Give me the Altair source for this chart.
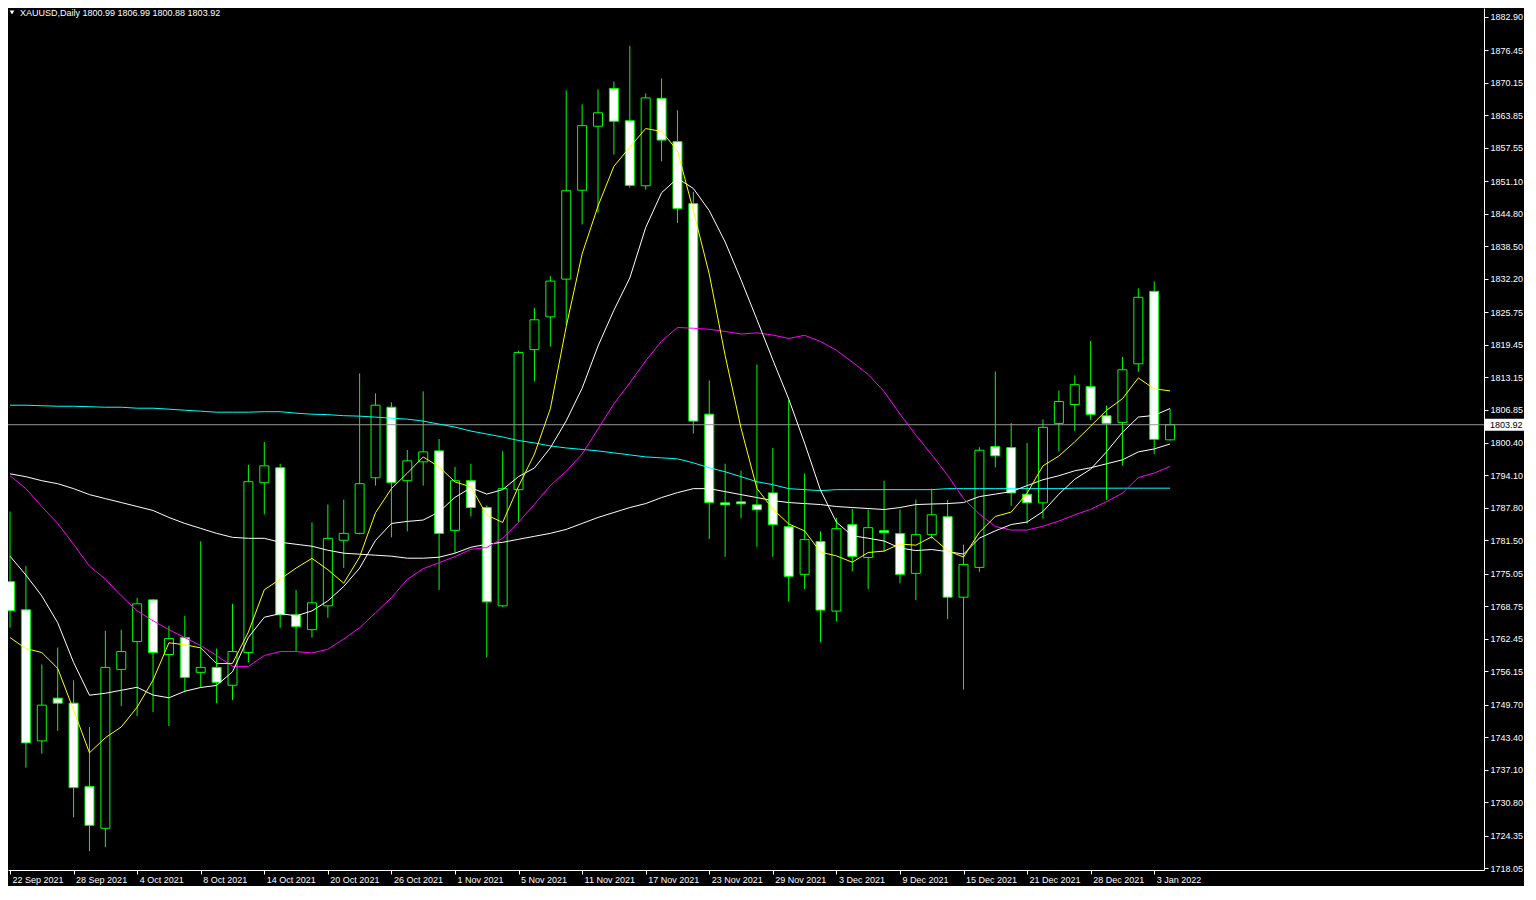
import altair as alt
import pandas as pd

symbol = "XAUUSD,Daily"

# x-axis labels, one every 4 bars (bar index 0, 4, 8, ...)
tick_labels = ["22 Sep 2021", "28 Sep 2021", "4 Oct 2021", "8 Oct 2021", "14 Oct 2021",
               "20 Oct 2021", "26 Oct 2021", "1 Nov 2021", "5 Nov 2021", "11 Nov 2021",
               "17 Nov 2021", "23 Nov 2021", "29 Nov 2021", "3 Dec 2021", "9 Dec 2021",
               "15 Dec 2021", "21 Dec 2021", "28 Dec 2021", "3 Jan 2022"]
tick_step = 4

price_ticks = [1882.90, 1876.45, 1870.15, 1863.85, 1857.55, 1851.10, 1844.80, 1838.50,
               1832.20, 1825.75, 1819.45, 1813.15, 1806.85, 1800.40, 1794.10, 1787.80,
               1781.50, 1775.05, 1768.75, 1762.45, 1756.15, 1749.70, 1743.40, 1737.10,
               1730.80, 1724.35, 1718.05]

opens = [1773.52, 1768.07, 1742.68, 1750.96, 1749.99, 1733.84, 1725.76, 1756.53, 1761.92, 1770.00,
         1759.42, 1762.69, 1755.96, 1756.92, 1753.46, 1759.80, 1792.69, 1795.58, 1767.11, 1764.23,
         1768.84, 1781.54, 1782.88, 1793.65, 1807.31, 1793.08, 1796.73, 1798.85, 1783.46, 1793.08,
         1787.88, 1768.84, 1791.35, 1818.47, 1824.81, 1832.12, 1849.34, 1861.74, 1869.05, 1862.80,
         1850.20, 1867.13, 1858.74, 1846.74, 1805.96, 1788.79, 1788.98, 1788.40, 1790.71, 1784.17,
         1774.94, 1781.29, 1767.82, 1784.56, 1778.21, 1783.40, 1782.83, 1775.13, 1782.63, 1786.10,
         1770.52, 1776.29, 1799.68, 1799.48, 1790.44, 1788.79, 1804.18, 1807.83, 1811.29, 1805.64,
         1804.37, 1815.72, 1829.76, 1800.99]
highs = [1787.12, 1776.54, 1757.50, 1760.76, 1754.42, 1745.38, 1764.03, 1764.23, 1770.38, 1770.19,
         1765.00, 1766.92, 1781.35, 1760.57, 1769.23, 1796.16, 1800.58, 1796.35, 1771.92, 1785.00,
         1788.46, 1789.42, 1813.85, 1810.00, 1808.27, 1799.04, 1810.39, 1801.16, 1795.77, 1796.35,
         1788.27, 1798.85, 1818.27, 1826.55, 1832.70, 1868.67, 1865.97, 1868.86, 1870.40, 1877.32,
         1868.09, 1870.98, 1864.82, 1849.05, 1812.50, 1796.35, 1795.00, 1815.58, 1799.43, 1808.66,
         1794.48, 1783.27, 1785.90, 1787.63, 1787.50, 1793.08, 1787.50, 1789.42, 1791.54, 1789.37,
         1780.71, 1799.56, 1814.24, 1804.23, 1800.39, 1804.95, 1810.52, 1813.47, 1820.14, 1807.64,
         1817.06, 1830.33, 1831.68, 1806.99]
lows = [1764.61, 1737.49, 1740.18, 1744.61, 1727.87, 1721.34, 1722.10, 1749.42, 1747.49, 1748.26,
        1745.57, 1752.11, 1753.07, 1749.99, 1750.57, 1757.88, 1786.54, 1764.61, 1760.00, 1762.69,
        1766.53, 1776.15, 1782.69, 1792.12, 1782.11, 1783.27, 1792.12, 1771.92, 1779.04, 1786.15,
        1758.84, 1768.65, 1785.00, 1812.31, 1819.04, 1823.28, 1842.70, 1845.01, 1856.24, 1849.82,
        1849.43, 1854.92, 1842.99, 1802.21, 1781.79, 1778.33, 1785.83, 1780.25, 1778.33, 1769.67,
        1772.06, 1761.78, 1765.90, 1775.52, 1772.06, 1779.36, 1773.21, 1769.94, 1781.86, 1766.29,
        1752.63, 1775.44, 1795.64, 1788.21, 1784.75, 1785.71, 1798.79, 1802.75, 1804.87, 1789.37,
        1796.02, 1814.18, 1798.21, 1800.88]
closes = [1767.88, 1742.30, 1749.61, 1749.99, 1733.64, 1726.34, 1756.92, 1760.00, 1769.23, 1759.80,
          1762.50, 1754.99, 1756.92, 1754.03, 1760.00, 1792.89, 1795.96, 1767.11, 1764.80, 1769.42,
          1781.92, 1782.88, 1792.50, 1807.70, 1792.69, 1796.92, 1798.66, 1782.88, 1793.08, 1787.88,
          1769.61, 1791.54, 1817.89, 1824.24, 1831.74, 1849.24, 1861.84, 1864.34, 1862.70, 1850.28,
          1867.22, 1859.05, 1845.78, 1804.62, 1788.85, 1788.40, 1788.60, 1787.44, 1784.56, 1774.56,
          1781.67, 1768.02, 1783.79, 1778.40, 1783.98, 1783.02, 1774.94, 1782.63, 1786.48, 1770.52,
          1776.86, 1798.98, 1797.89, 1790.71, 1788.79, 1803.41, 1808.41, 1811.68, 1805.91, 1804.18,
          1814.56, 1828.60, 1801.10, 1803.92]

ma_yellow = [1762.69, 1760.57, 1759.80, 1756.73, 1748.68, 1740.38, 1743.30, 1745.38, 1749.22, 1754.45,
             1761.69, 1761.30, 1760.69, 1757.65, 1757.69, 1763.76, 1771.96, 1774.00, 1776.15, 1778.04,
             1775.84, 1773.23, 1778.31, 1786.88, 1791.54, 1794.54, 1797.69, 1795.77, 1792.85, 1791.88,
             1786.42, 1785.00, 1792.00, 1798.23, 1807.00, 1822.93, 1836.99, 1846.28, 1853.97, 1857.68,
             1861.28, 1860.72, 1857.01, 1845.39, 1833.10, 1817.33, 1803.25, 1791.58, 1787.58, 1784.71,
             1783.36, 1779.25, 1778.52, 1777.29, 1779.17, 1779.44, 1780.82, 1780.59, 1782.21, 1779.52,
             1778.29, 1783.09, 1786.15, 1787.00, 1790.65, 1795.96, 1797.85, 1800.60, 1803.64, 1806.71,
             1808.95, 1812.98, 1810.87, 1810.47]
ma_white_fast = [1778.46, 1774.80, 1770.77, 1765.57, 1757.88, 1751.53, 1751.91, 1752.49, 1753.07, 1751.57,
                 1751.03, 1752.30, 1753.03, 1753.43, 1756.07, 1762.73, 1766.63, 1767.34, 1766.90, 1767.86,
                 1769.80, 1772.59, 1776.15, 1781.52, 1784.79, 1785.19, 1785.46, 1787.04, 1789.86, 1791.71,
                 1790.48, 1791.35, 1793.88, 1795.54, 1799.44, 1804.67, 1810.98, 1819.14, 1826.10, 1832.33,
                 1842.10, 1848.85, 1851.64, 1849.68, 1845.39, 1839.31, 1831.99, 1824.29, 1816.48, 1808.90,
                 1800.35, 1791.25, 1785.06, 1782.42, 1781.94, 1781.40, 1780.04, 1779.55, 1779.75, 1779.34,
                 1778.86, 1781.96, 1783.36, 1784.59, 1785.07, 1787.11, 1790.46, 1793.36, 1795.31, 1798.67,
                 1802.44, 1805.40, 1805.73, 1807.06]
ma_magenta = [1794.04, 1791.54, 1788.07, 1784.80, 1780.76, 1776.53, 1774.03, 1770.77, 1767.88, 1765.95,
              1764.23, 1762.69, 1761.15, 1759.22, 1757.11, 1757.11, 1759.22, 1759.99, 1759.99, 1759.71,
              1760.42, 1762.44, 1764.59, 1767.48, 1770.42, 1773.96, 1776.04, 1777.19, 1778.38, 1779.79,
              1780.13, 1781.96, 1785.02, 1788.52, 1792.12, 1794.92, 1798.23, 1803.08, 1807.98, 1812.02,
              1816.29, 1820.10, 1822.76, 1822.60, 1822.41, 1821.99, 1821.49, 1821.72, 1821.29, 1820.62,
              1821.24, 1820.04, 1818.35, 1816.06, 1813.66, 1810.35, 1806.00, 1801.92, 1798.12, 1794.11,
              1789.61, 1786.60, 1784.21, 1783.52, 1783.52, 1784.27, 1785.25, 1786.46, 1787.54, 1789.02,
              1790.65, 1793.69, 1794.56, 1795.83]
ma_white_slow = [1794.42, 1793.85, 1793.08, 1792.50, 1791.54, 1790.38, 1789.61, 1788.85, 1788.08, 1787.31,
                 1785.96, 1784.80, 1783.84, 1782.88, 1782.11, 1781.92, 1781.92, 1781.15, 1780.77, 1780.38,
                 1779.61, 1779.04, 1778.84, 1778.65, 1778.46, 1778.07, 1778.07, 1778.26, 1779.04, 1780.19,
                 1780.77, 1781.15, 1781.73, 1782.31, 1782.88, 1783.65, 1784.80, 1785.96, 1786.92, 1787.88,
                 1788.65, 1789.81, 1790.77, 1791.54, 1791.54, 1790.96, 1790.38, 1789.81, 1789.23, 1788.85,
                 1788.65, 1788.46, 1788.08, 1787.88, 1787.69, 1787.50, 1787.88, 1788.46, 1788.56, 1788.65,
                 1788.85, 1790.00, 1790.48, 1790.96, 1792.12, 1793.27, 1794.04, 1795.00, 1795.58, 1796.35,
                 1797.12, 1798.66, 1799.23, 1800.19]
ma_cyan = [1807.70, 1807.70, 1807.60, 1807.50, 1807.50, 1807.41, 1807.31, 1807.31, 1807.12, 1807.12,
           1806.93, 1806.73, 1806.54, 1806.35, 1806.35, 1806.35, 1806.44, 1806.44, 1806.16, 1805.96,
           1805.87, 1805.67, 1805.58, 1805.39, 1805.19, 1805.00, 1804.62, 1804.04, 1803.46, 1802.69,
           1802.12, 1801.54, 1800.87, 1800.39, 1799.81, 1799.42, 1799.14, 1798.85, 1798.46, 1798.08,
           1797.69, 1797.50, 1797.31, 1796.54, 1795.58, 1794.81, 1793.85, 1792.88, 1792.31, 1791.54,
           1791.35, 1791.15, 1791.35, 1791.35, 1791.35, 1791.35, 1791.35, 1791.35, 1791.35, 1791.54,
           1791.54, 1791.54, 1791.54, 1791.54, 1791.54, 1791.54, 1791.54, 1791.63, 1791.63, 1791.63,
           1791.63, 1791.63, 1791.63, 1791.63]

# ---------------------------------------------------------------- layout
W, H = 1476, 862
X_DOMAIN = [0.1875, 92.4375]
Y_DOMAIN = [1717.68, 1884.63]
FONT = "Liberation Sans"
GREEN = "#00ff00"

n = len(closes)
candles = pd.DataFrame({
    "i": list(range(n)), "open": opens, "high": highs, "low": lows, "close": closes,
})
candles["fill"] = ["#000000" if c > o else "#ffffff" for o, c in zip(opens, closes)]

lines = pd.DataFrame({
    "i": list(range(n)),
    "cyan": ma_cyan, "slow": ma_white_slow, "magenta": ma_magenta,
    "fast": ma_white_fast, "yellow": ma_yellow,
})

label_expr = "[" + ",".join("'" + s + "'" for s in tick_labels) + "][round(datum.value / %d)]" % tick_step
x_ticks = [k * tick_step for k in range(len(tick_labels))]

x_scale = alt.Scale(domain=X_DOMAIN, nice=False, zero=False)
y_scale = alt.Scale(domain=Y_DOMAIN, nice=False, zero=False)

x_axis = alt.Axis(values=x_ticks, labelExpr=label_expr, title=None, grid=False,
                  labelAlign="left", labelBaseline="top", labelPadding=1, labelOffset=2,
                  tickSize=4, tickColor="#ffffff", domainColor="#ffffff", labelColor="#ffffff",
                  labelFont=FONT, labelFontSize=9, labelOverlap=False, labelFlush=False,
                  labelBound=False)
y_axis = alt.Axis(orient="right", values=price_ticks, format=".2f", title=None, grid=False,
                  tickSize=4, tickColor="#ffffff", domainColor="#ffffff", labelColor="#ffffff",
                  labelFont=FONT, labelFontSize=9, labelPadding=2, labelOverlap=False,
                  labelFlush=False, labelBound=False)


def X(field):
    return alt.X(field, scale=x_scale, axis=x_axis)


def Y(field):
    return alt.Y(field, scale=y_scale, axis=y_axis)


base = alt.Chart(candles)

wicks = base.mark_rule(color=GREEN, strokeWidth=1, clip=True).encode(
    x=X("i:Q"), y=Y("low:Q"), y2="high:Q",
)
bodies = base.mark_bar(size=9, stroke=GREEN, strokeWidth=1, clip=True).encode(
    x=X("i:Q"), y=Y("open:Q"), y2="close:Q",
    fill=alt.Fill("fill:N", scale=None),
)

last_price = closes[-1]
price_line = alt.Chart(pd.DataFrame({"p": [last_price]})).mark_rule(
    color="#969696", strokeWidth=1).encode(y=Y("p:Q"))

line_layers = []
for col, colr in [("cyan", "#00ffff"), ("slow", "#ffffff"), ("magenta", "#ff00ff"),
                  ("fast", "#ffffff"), ("yellow", "#ffff00")]:
    line_layers.append(
        alt.Chart(lines).mark_line(color=colr, strokeWidth=1, clip=True).encode(
            x=X("i:Q"), y=Y(col + ":Q"),
        )
    )

# price box on the right axis
box_half = 1.15
box_df = pd.DataFrame({"p": [last_price], "top": [last_price + box_half],
                       "bot": [last_price - box_half], "t": [f"{last_price:.2f}"]})
box = alt.Chart(box_df).mark_rect(color="#ffffff").encode(
    x=alt.value(W + 1), x2=alt.value(W + 40),
    y=Y("top:Q"), y2="bot:Q",
)
box_text = alt.Chart(box_df).mark_text(
    align="left", baseline="middle", font=FONT, fontSize=9, color="#000000").encode(
    x=alt.value(W + 6), y=Y("p:Q"), text="t:N",
)

header = f"{symbol}  {opens[-1]:.2f} {highs[-1]:.2f} {lows[-1]:.2f} {closes[-1]:.2f}"
head_df = pd.DataFrame({"t": [header]})
head_text = alt.Chart(head_df).mark_text(
    align="left", baseline="middle", font=FONT, fontSize=9, color="#ffffff").encode(
    x=alt.value(12), y=alt.value(5), text="t:N")
head_tri = alt.Chart(head_df).mark_point(
    shape="triangle-down", filled=True, color="#ffffff", size=22, opacity=1).encode(
    x=alt.value(4), y=alt.value(4.5))

chart = alt.layer(
    wicks, bodies, price_line, *line_layers, box, box_text, head_text, head_tri
).properties(
    width=W, height=H,
    autosize=alt.AutoSizeParams(type="none"),
    padding={"left": 0, "top": 0, "right": 40, "bottom": 16},
    background="#000000",
).configure_view(stroke=None).configure_axis(grid=False, labelOverlap=False)

chart.save("out.html", embed_options={"renderer": "svg", "actions": False})
